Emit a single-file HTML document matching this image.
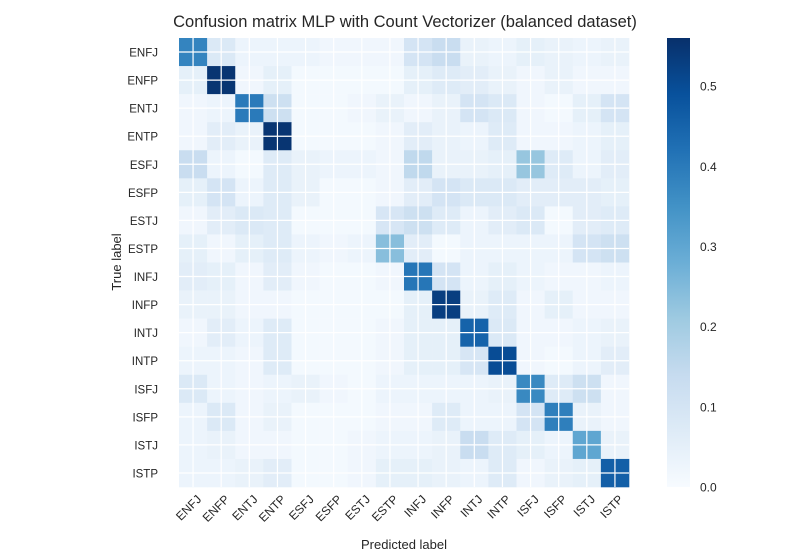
<!DOCTYPE html>
<html><head><meta charset="utf-8"><style>
body{margin:0;background:#fff;}
svg{display:block;font-family:"Liberation Sans",Arial,sans-serif;}
</style></head><body>
<svg id="chart" width="800" height="550" viewBox="0 0 800 550">
<defs>
<linearGradient id="cbgrad" x1="0" y1="1" x2="0" y2="0">
<stop offset="0" stop-color="#f7fbff"/><stop offset="0.125" stop-color="#deebf7"/><stop offset="0.25" stop-color="#c6dbef"/><stop offset="0.375" stop-color="#9ecae1"/><stop offset="0.5" stop-color="#6baed6"/><stop offset="0.625" stop-color="#4292c6"/><stop offset="0.75" stop-color="#2171b5"/><stop offset="0.875" stop-color="#08519c"/><stop offset="1" stop-color="#08306b"/>
</linearGradient>
</defs>
<text x="405" y="27" text-anchor="middle" font-size="16.5" fill="#262626">Confusion matrix MLP with Count Vectorizer (balanced dataset)</text>
<g id="cells"></g>
<g id="grid"></g>
<g id="ylabels"></g>
<g id="xlabels"></g>
<text transform="translate(121,262) rotate(-90)" text-anchor="middle" font-size="13" fill="#262626">True label</text>
<text x="404" y="549" text-anchor="middle" font-size="13" fill="#262626">Predicted label</text>
<rect x="667" y="38" width="23" height="449" fill="url(#cbgrad)"/>
<g id="cbticks"></g>
</svg>
<script>
const categories=["ENFJ","ENFP","ENTJ","ENTP","ESFJ","ESFP","ESTJ","ESTP","INFJ","INFP","INTJ","INTP","ISFJ","ISFP","ISTJ","ISTP"];
const row0=[0.38,0.08,0.03,0.03,0.03,0.02,0.02,0.02,0.10,0.13,0.04,0.03,0.05,0.04,0.03,0.04];
const row1=[0.05,0.55,0.02,0.05,0.01,0.01,0.01,0.01,0.05,0.07,0.06,0.04,0.02,0.04,0.02,0.02];
const row2=[0.02,0.03,0.40,0.12,0.01,0.01,0.02,0.04,0.02,0.04,0.10,0.08,0.02,0.01,0.05,0.10];
const row3=[0.02,0.06,0.04,0.55,0.01,0.01,0.01,0.02,0.06,0.04,0.03,0.07,0.02,0.02,0.03,0.05];
const row4=[0.13,0.03,0.01,0.07,0.04,0.03,0.03,0.02,0.15,0.04,0.04,0.05,0.22,0.07,0.03,0.06];
const row5=[0.05,0.10,0.03,0.07,0.04,0.01,0.01,0.02,0.06,0.10,0.08,0.08,0.06,0.06,0.06,0.05];
const row6=[0.02,0.06,0.08,0.07,0.01,0.01,0.01,0.09,0.12,0.07,0.03,0.06,0.08,0.01,0.06,0.07];
const row7=[0.05,0.02,0.05,0.07,0.03,0.02,0.03,0.24,0.06,0.01,0.03,0.03,0.03,0.03,0.10,0.12];
const row8=[0.06,0.05,0.02,0.06,0.02,0.01,0.01,0.02,0.41,0.10,0.03,0.05,0.03,0.02,0.02,0.03];
const row9=[0.04,0.04,0.02,0.02,0.01,0.01,0.01,0.01,0.05,0.53,0.04,0.07,0.02,0.05,0.02,0.02];
const row10=[0.02,0.06,0.03,0.07,0.01,0.01,0.01,0.02,0.05,0.05,0.45,0.08,0.02,0.02,0.03,0.04];
const row11=[0.03,0.03,0.02,0.07,0.01,0.01,0.01,0.02,0.05,0.05,0.09,0.50,0.02,0.01,0.03,0.06];
const row12=[0.08,0.03,0.02,0.03,0.04,0.02,0.01,0.03,0.03,0.03,0.03,0.04,0.37,0.07,0.12,0.02];
const row13=[0.03,0.08,0.02,0.04,0.01,0.01,0.01,0.02,0.02,0.07,0.03,0.03,0.10,0.39,0.04,0.02];
const row14=[0.03,0.04,0.02,0.02,0.01,0.01,0.02,0.03,0.03,0.04,0.13,0.07,0.05,0.03,0.30,0.04];
const row15=[0.03,0.03,0.04,0.06,0.01,0.01,0.02,0.05,0.05,0.04,0.03,0.07,0.02,0.04,0.05,0.46];
const matrix=[row0,row1,row2,row3,row4,row5,row6,row7,row8,row9,row10,row11,row12,row13,row14,row15];
const cbTickValues=[0.0,0.1,0.2,0.3,0.4,0.5];
const cbTickLabels=["0.0","0.1","0.2","0.3","0.4","0.5"];
const vmax=0.56;

const NS="http://www.w3.org/2000/svg";
const X0=179,Y0=38,W=450,H=449,n=categories.length,cw=W/n,ch=H/n;
const xPos=i=>X0+i*cw, yPos=i=>Y0+i*ch;
const cbY=v=>Y0+H-(v/vmax)*H;
const stops=[[247,251,255],[222,235,247],[198,219,239],[158,202,225],[107,174,214],[66,146,198],[33,113,181],[8,81,156],[8,48,107]];
function blues(v){let t=Math.max(0,Math.min(1,v/vmax))*8;let i=Math.min(7,Math.floor(t));let f=t-i;const a=stops[i],b=stops[i+1];return "rgb("+a.map((c,k)=>Math.round(c+(b[k]-c)*f)).join(",")+")";}
function mk(tag,attrs,parent){const e=document.createElementNS(NS,tag);for(const k in attrs)e.setAttribute(k,attrs[k]);parent.appendChild(e);return e;}
const cells=document.getElementById('cells');
matrix.forEach((row,r)=>row.forEach((v,c)=>{
  const e=mk('rect',{x:xPos(c),y:yPos(r),width:cw+0.3,height:ch+0.3,fill:blues(v)},cells);
  
  
}));
const grid=document.getElementById('grid');
for(let i=0;i<n;i++){
  const gx=mk('line',{x1:xPos(i)+cw/2,x2:xPos(i)+cw/2,y1:Y0,y2:Y0+H,stroke:'#fff','stroke-width':1.2},grid);
  
  
  const gy=mk('line',{x1:X0,x2:X0+W,y1:yPos(i)+ch/2,y2:yPos(i)+ch/2,stroke:'#fff','stroke-width':1.2},grid);
  
  
}
const yl=document.getElementById('ylabels'),xl=document.getElementById('xlabels');
categories.forEach((c,i)=>{
  const t=mk('text',{x:158,y:yPos(i)+ch/2+4.5,'text-anchor':'end','font-size':11.5,fill:'#262626'},yl);
  t.textContent=c;
  
  
  const cx=xPos(i)+cw/2+9, cy=Y0+H+13;
  const u=mk('text',{x:cx,y:cy,'text-anchor':'end','font-size':12,fill:'#262626',transform:'rotate(-45 '+cx+' '+cy+')'},xl);
  u.textContent=c;
  
  
});
const cbt=document.getElementById('cbticks');
cbTickValues.forEach((v,i)=>{
  const t=mk('text',{x:700,y:cbY(v)+4.5,'font-size':12,fill:'#262626'},cbt);
  t.textContent=cbTickLabels[i];
  
  
});
</script>
</body></html>
